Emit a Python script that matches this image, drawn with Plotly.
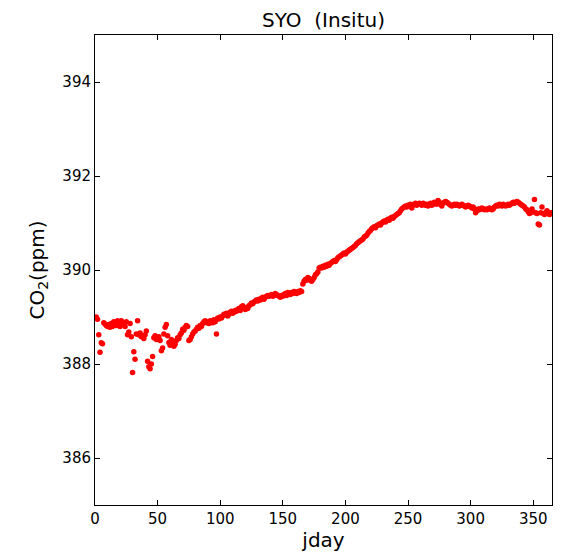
import plotly.graph_objects as go

co2_01_50 = [389.00, 388.95, 388.62, 388.25, 388.45, 388.43, 388.88, 388.85, 388.82, 388.80,
             388.84, 388.78, 388.86, 388.80, 388.90, 388.88, 388.82, 388.92, 388.86, 388.80,
             388.92, 388.88, 388.84, 388.80, 388.90, 388.62, 388.68, 388.86, 388.58, 387.82,
             388.26, 388.10, 388.64, 388.92, 388.62, 388.66, 388.58, 388.60, 388.54, 388.62,
             388.70, 388.06, 387.94, 387.90, 388.00, 388.16, 388.56, 388.60, 388.52, 388.54]
co2_51_100 = [388.58, 388.50, 388.28, 388.34, 388.64, 388.78, 388.84, 388.60, 388.46, 388.40,
              388.52, 388.44, 388.38, 388.42, 388.50, 388.56, 388.54, 388.62, 388.66, 388.74,
              388.72, 388.78, 388.82, 388.80, 388.50, 388.52, 388.58, 388.64, 388.68, 388.70,
              388.74, 388.78, 388.76, 388.82, 388.80, 388.86, 388.90, 388.92, 388.88, 388.90,
              388.86, 388.92, 388.90, 388.88, 388.94, 388.90, 388.64, 388.98, 388.96, 389.00]
co2_101_150 = [388.98, 389.02, 389.06, 389.04, 389.08, 389.02, 389.06, 389.10, 389.12, 389.08,
               389.10, 389.14, 389.12, 389.16, 389.18, 389.14, 389.22, 389.24, 389.20, 389.16,
               389.20, 389.18, 389.24, 389.26, 389.30, 389.28, 389.32, 389.34, 389.36, 389.34,
               389.38, 389.36, 389.40, 389.42, 389.38, 389.42, 389.44, 389.46, 389.44, 389.46,
               389.48, 389.44, 389.46, 389.50, 389.48, 389.46, 389.44, 389.42, 389.46, 389.44]
co2_151_200 = [389.48, 389.50, 389.46, 389.52, 389.50, 389.48, 389.52, 389.50, 389.54, 389.52,
               389.50, 389.54, 389.52, 389.56, 389.54, 389.70, 389.76, 389.80, 389.78, 389.84,
               389.82, 389.78, 389.76, 389.80, 389.84, 389.90, 389.92, 389.96, 390.04, 390.06,
               390.04, 390.08, 390.06, 390.10, 390.08, 390.12, 390.10, 390.14, 390.16, 390.18,
               390.20, 390.18, 390.22, 390.26, 390.28, 390.30, 390.32, 390.34, 390.36, 390.34]
co2_201_250 = [390.38, 390.40, 390.42, 390.44, 390.46, 390.48, 390.50, 390.52, 390.56, 390.58,
               390.60, 390.62, 390.64, 390.66, 390.70, 390.72, 390.74, 390.78, 390.82, 390.84,
               390.88, 390.90, 390.92, 390.90, 390.94, 390.96, 390.98, 390.96, 391.00, 391.02,
               391.04, 391.02, 391.06, 391.08, 391.06, 391.10, 391.12, 391.10, 391.14, 391.16,
               391.18, 391.20, 391.22, 391.26, 391.30, 391.32, 391.34, 391.36, 391.34, 391.38]
co2_251_300 = [391.36, 391.40, 391.32, 391.38, 391.40, 391.42, 391.38, 391.40, 391.42, 391.40,
               391.38, 391.42, 391.40, 391.38, 391.40, 391.36, 391.40, 391.42, 391.38, 391.40,
               391.44, 391.42, 391.40, 391.48, 391.44, 391.40, 391.36, 391.42, 391.44, 391.46,
               391.44, 391.42, 391.40, 391.38, 391.36, 391.38, 391.40, 391.38, 391.40, 391.38,
               391.36, 391.38, 391.40, 391.38, 391.36, 391.34, 391.36, 391.38, 391.36, 391.34]
co2_301_365 = [391.32, 391.34, 391.30, 391.22, 391.26, 391.30, 391.28, 391.30, 391.32, 391.30,
               391.28, 391.30, 391.28, 391.30, 391.32, 391.30, 391.28, 391.30, 391.34, 391.36,
               391.38, 391.36, 391.40, 391.38, 391.36, 391.40, 391.38, 391.36, 391.38, 391.40,
               391.38, 391.40, 391.42, 391.44, 391.42, 391.44, 391.46, 391.44, 391.42, 391.40,
               391.38, 391.36, 391.34, 391.30, 391.28, 391.24, 391.20, 391.22, 391.30, 391.24,
               391.50, 391.22, 391.20, 390.98, 390.96, 391.22, 391.34, 391.20, 391.18, 391.22,
               391.26, 391.20, 391.18, 391.22, 391.20]

co2 = co2_01_50 + co2_51_100 + co2_101_150 + co2_151_200 + co2_201_250 + co2_251_300 + co2_301_365
jday = list(range(1, len(co2) + 1))

x_ticks = [0, 50, 100, 150, 200, 250, 300, 350]
y_ticks = [386, 388, 390, 392, 394]

fig = go.Figure(go.Scatter(
    x=jday, y=co2, mode="markers",
    marker=dict(color="#ff0000", size=5.5, line=dict(width=0)),
    showlegend=False, cliponaxis=True,
))

axis_common = dict(
    showline=True, linecolor="black", linewidth=1, mirror="ticks",
    ticks="inside", ticklen=5, tickwidth=1, tickcolor="black",
    showgrid=False, zeroline=False,
    tickfont=dict(family="DejaVu Sans", size=15, color="black"),
)

W, H = 555, 548
fig.update_layout(
    width=W, height=H,
    margin=dict(l=87, r=11, t=27, b=51),
    paper_bgcolor="white", plot_bgcolor="white",
    font=dict(family="DejaVu Sans", color="black"),
    title=dict(text="SYO\u00a0 (Insitu)", x=(87 + 544) / 2 / W, xanchor="center",
               y=1 - 12 / H, yanchor="middle",
               font=dict(family="DejaVu Sans", size=20, color="black")),
    xaxis=dict(range=[0, 365], tickvals=x_ticks,
               title=dict(text="jday", font=dict(size=20), standoff=4), **axis_common),
    yaxis=dict(range=[385, 395], tickvals=y_ticks,
               title=dict(text="CO<sub>2</sub>(ppm)", font=dict(size=20), standoff=12), **axis_common),
)

fig.write_html("out.html")
